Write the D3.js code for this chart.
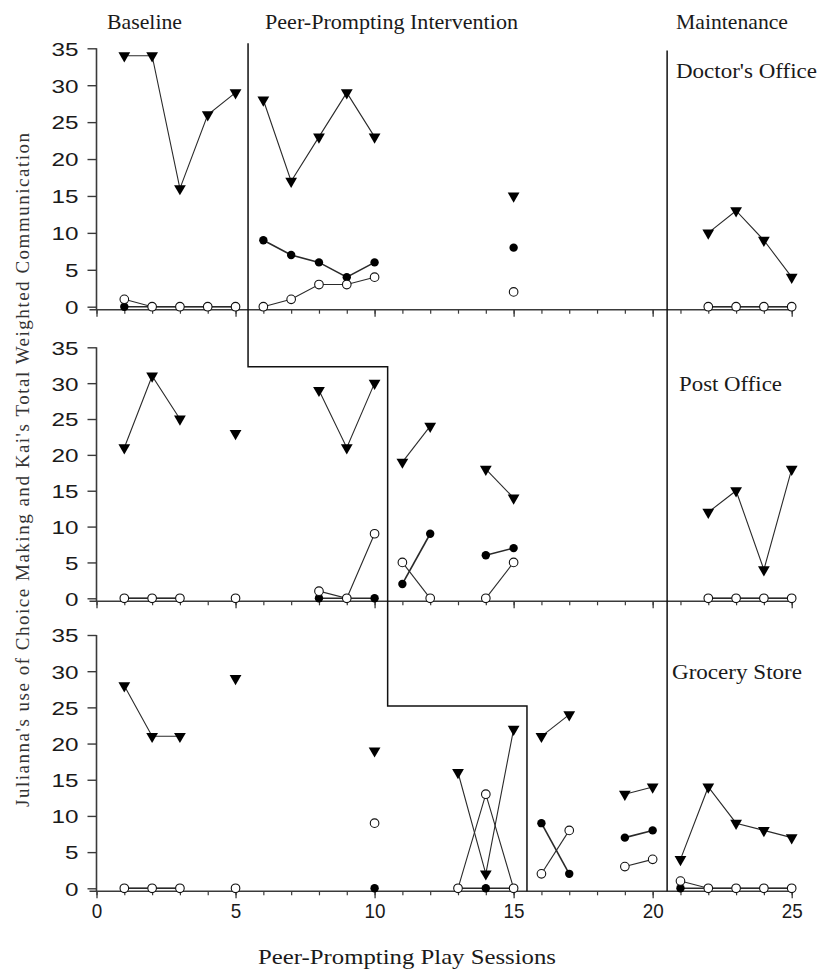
<!DOCTYPE html>
<html><head><meta charset="utf-8">
<script src="https://cdn.jsdelivr.net/npm/d3@7"></script>
<style>body{margin:0;background:#fff}</style>
</head><body>
<svg id="chart" width="819" height="969"></svg>
<script>
const _ = null;
const sessions = d3.range(1, 26);
const panelNames = ["Doctor's Office", "Post Office", "Grocery Store"];
const phaseNames = ["Baseline", "Peer-Prompting Intervention", "Maintenance"];
const xTickLabels = [0, 5, 10, 15, 20, 25];
const yTickLabels = [0, 5, 10, 15, 20, 25, 30, 35];
const xTitle = "Peer-Prompting Play Sessions";
const yTitle = "Julianna's use of Choice Making and Kai's Total Weighted Communication";

// Doctor's Office (sessions 1..25)
const doctorTriangle = [34,34,16,26,29, 28,17,23,29,23, _,_,_,_,15, _,_,_,_,_, _,10,13,9,4];
const doctorFilled   = [0,0,0,0,0,      9,7,6,4,6,      _,_,_,_,8,  _,_,_,_,_, _,0,0,0,0];
const doctorOpen     = [1,0,0,0,0,      0,1,3,3,4,      _,_,_,_,2,  _,_,_,_,_, _,0,0,0,0];
// Post Office
const postTriangle = [21,31,25,_,23, _,_,29,21,30, 19,24,_,18,14, _,_,_,_,_, _,12,15,4,18];
const postFilled   = [0,0,0,_,0,     _,_,0,0,0,    2,9,_,6,7,     _,_,_,_,_, _,0,0,0,0];
const postOpen     = [0,0,0,_,0,     _,_,1,0,9,    5,0,_,0,5,     _,_,_,_,_, _,0,0,0,0];
// Grocery Store
const groceryTriangle = [28,21,21,_,29, _,_,_,_,19, _,_,16,2,22, 21,24,_,13,14, 4,14,9,8,7];
const groceryFilled   = [0,0,0,_,0,     _,_,_,_,0,  _,_,0,0,0,   9,2,_,7,8,     0,0,0,0,0];
const groceryOpen     = [0,0,0,_,0,     _,_,_,_,9,  _,_,0,13,0,  2,8,_,3,4,     1,0,0,0,0];

// phase-change positions (session units) per panel
const doctorPhases = [5.45, 20.52];
const postPhases = [10.47, 20.52];
const groceryPhases = [15.48, 20.52];
// step heights of the staggered phase line (value units in each panel)
const phaseLineTop = 35.7, postStep = 32.3, groceryStep = 25.2, maintTop = 34.7;

const panelData = [
  {name: panelNames[0], tri: doctorTriangle, filled: doctorFilled, open: doctorOpen, phases: doctorPhases},
  {name: panelNames[1], tri: postTriangle, filled: postFilled, open: postOpen, phases: postPhases},
  {name: panelNames[2], tri: groceryTriangle, filled: groceryFilled, open: groceryOpen, phases: groceryPhases}
];

// layout
const layout = [
  {y0: 306.7, y35: 48.3, labelY: 78},
  {y0: 598.3, y35: 347.3, labelY: 391},
  {y0: 888.3, y35: 635, labelY: 679}
];
const svg = d3.select("#chart");
const x = d3.scaleLinear().domain([0, 25]).range([96.5, 791.7]);
const ink = "#1a1a1a";
const axisCol = "#3a3a3a";

const ys = layout.map(l => d3.scaleLinear().domain([0, 35]).range([l.y0, l.y35]));

function segments(vals, phases) {
  const segs = [];
  let cur = [];
  const phaseOf = s => phases.filter(p => s > p).length;
  vals.forEach((v, i) => {
    const s = sessions[i];
    if (v === null) { if (cur.length) segs.push(cur); cur = []; return; }
    if (cur.length && (phaseOf(cur[cur.length-1].s) !== phaseOf(s) || cur[cur.length-1].s !== s - 1)) {
      segs.push(cur); cur = [];
    }
    cur.push({s, v});
  });
  if (cur.length) segs.push(cur);
  return segs;
}

panelData.forEach((p, pi) => {
  const y = ys[pi];
  const L = layout[pi];
  const g = svg.append("g");
  const axisY = L.y0 + 3;

  // y axis
  const ya = d3.axisLeft(y).tickValues(yTickLabels).tickSize(9).tickSizeOuter(0).tickFormat(d3.format("d"));
  const yg = g.append("g").attr("transform", `translate(${x(0)},0)`).call(ya);
  yg.select(".domain").remove();
  yg.selectAll(".tick line").attr("stroke", axisCol).attr("stroke-width", 1.4);
  yg.selectAll(".tick text").attr("x", -18).attr("dy", "0.36em")
    .attr("font-family", "Liberation Sans, Arial, sans-serif").attr("font-size", 19).attr("fill", ink)
    .attr("textLength", d => String(d).length * 13.5).attr("lengthAdjust", "spacingAndGlyphs");
  g.append("line").attr("x1", x(0)).attr("x2", x(0)).attr("y1", y(35)).attr("y2", axisY)
    .attr("stroke", axisCol).attr("stroke-width", 1.6);

  // x axis
  const minor = d3.axisBottom(x).tickValues(d3.range(0, 26)).tickSize(4).tickSizeOuter(0).tickFormat("");
  const mg = g.append("g").attr("transform", `translate(0,${axisY})`).call(minor);
  mg.select(".domain").remove();
  mg.selectAll(".tick line").attr("stroke", axisCol).attr("stroke-width", 1.2);
  const major = d3.axisBottom(x).tickValues(xTickLabels).tickSize(7).tickSizeOuter(0)
    .tickFormat(pi === 2 ? d3.format("d") : "");
  const jg = g.append("g").attr("transform", `translate(0,${axisY})`).call(major);
  jg.select(".domain").remove();
  jg.selectAll(".tick line").attr("stroke", axisCol).attr("stroke-width", 1.3);
  jg.selectAll(".tick text").attr("y", 0).attr("dy", 0)
    .attr("transform", "translate(0,27)")
    .attr("font-family", "Liberation Sans, Arial, sans-serif").attr("font-size", 21).attr("fill", ink)
    .attr("textLength", d => String(d).length * 10.5).attr("lengthAdjust", "spacingAndGlyphs");
  g.append("line").attr("x1", x(0) - 7).attr("x2", x(25)).attr("y1", axisY).attr("y2", axisY)
    .attr("stroke", axisCol).attr("stroke-width", 1.6);

  // lines
  const line = d3.line().x(d => x(d.s)).y(d => y(d.v));
  [["tri", 1.1], ["open", 1.1], ["filled", 1.6]].forEach(([k, w]) => {
    segments(p[k], p.phases).filter(sg => sg.length > 1).forEach(sg => {
      g.append("path").attr("d", line(sg)).attr("fill", "none").attr("stroke", "#2a2a2a").attr("stroke-width", w);
    });
  });

  const pts = k => p[k].map((v, i) => ({s: sessions[i], v})).filter(d => d.v !== null);
  // triangles
  g.selectAll(".tri").data(pts("tri")).join("path")
    .attr("d", d3.symbol(d3.symbolTriangle).size(60))
    .attr("transform", d => `translate(${x(d.s)},${y(d.v)}) rotate(180)`)
    .attr("fill", "#000");
  // filled circles
  g.selectAll(".fc").data(pts("filled")).join("circle")
    .attr("cx", d => x(d.s)).attr("cy", d => y(d.v)).attr("r", 4.2).attr("fill", "#000");
  // open circles
  g.selectAll(".oc").data(pts("open")).join("circle")
    .attr("cx", d => x(d.s)).attr("cy", d => y(d.v)).attr("r", 4.3)
    .attr("fill", "#fff").attr("stroke", "#111").attr("stroke-width", 1.1);

  // panel label
  const widths = [141, 103, 130];
  svg.append("text").attr("x", [676, 679, 672][pi]).attr("y", L.labelY)
    .attr("font-family", "Liberation Serif, Times New Roman, serif").attr("font-size", 21).attr("fill", ink)
    .attr("textLength", widths[pi]).attr("lengthAdjust", "spacingAndGlyphs")
    .text(p.name);
});

// staggered phase line
const yA = ys[0], yB = ys[1], yC = ys[2];
const bottom = layout[2].y0 + 3;
const pth = d3.path();
pth.moveTo(x(doctorPhases[0]), yA(phaseLineTop));
pth.lineTo(x(doctorPhases[0]), yB(postStep));
pth.lineTo(x(postPhases[0]), yB(postStep));
pth.lineTo(x(postPhases[0]), yC(groceryStep));
pth.lineTo(x(groceryPhases[0]), yC(groceryStep));
pth.lineTo(x(groceryPhases[0]), bottom);
svg.append("path").attr("d", pth.toString()).attr("fill", "none").attr("stroke", "#111").attr("stroke-width", 1.5);
svg.append("line").attr("x1", x(doctorPhases[1])).attr("x2", x(doctorPhases[1]))
  .attr("y1", yA(maintTop)).attr("y2", bottom).attr("stroke", "#111").attr("stroke-width", 1.5);

// phase names
const phaseX = [107, 265, 676], phaseW = [75, 253, 112];
phaseNames.forEach((n, i) => {
  svg.append("text").attr("x", phaseX[i]).attr("y", 29)
    .attr("font-family", "Liberation Serif, Times New Roman, serif").attr("font-size", 21).attr("fill", ink)
    .attr("textLength", phaseW[i]).attr("lengthAdjust", "spacingAndGlyphs").text(n);
});

// axis titles
svg.append("text").attr("x", 407).attr("y", 964).attr("text-anchor", "middle")
  .attr("font-family", "Liberation Serif, Times New Roman, serif").attr("font-size", 22).attr("fill", ink)
  .attr("textLength", 298).attr("lengthAdjust", "spacingAndGlyphs").text(xTitle);
svg.append("text").attr("transform", "translate(29,470) rotate(-90)").attr("text-anchor", "middle")
  .attr("font-family", "Liberation Serif, Times New Roman, serif").attr("font-size", 19).attr("fill", "#333")
  .attr("textLength", 674).attr("lengthAdjust", "spacing").text(yTitle);
</script>
</body></html>
